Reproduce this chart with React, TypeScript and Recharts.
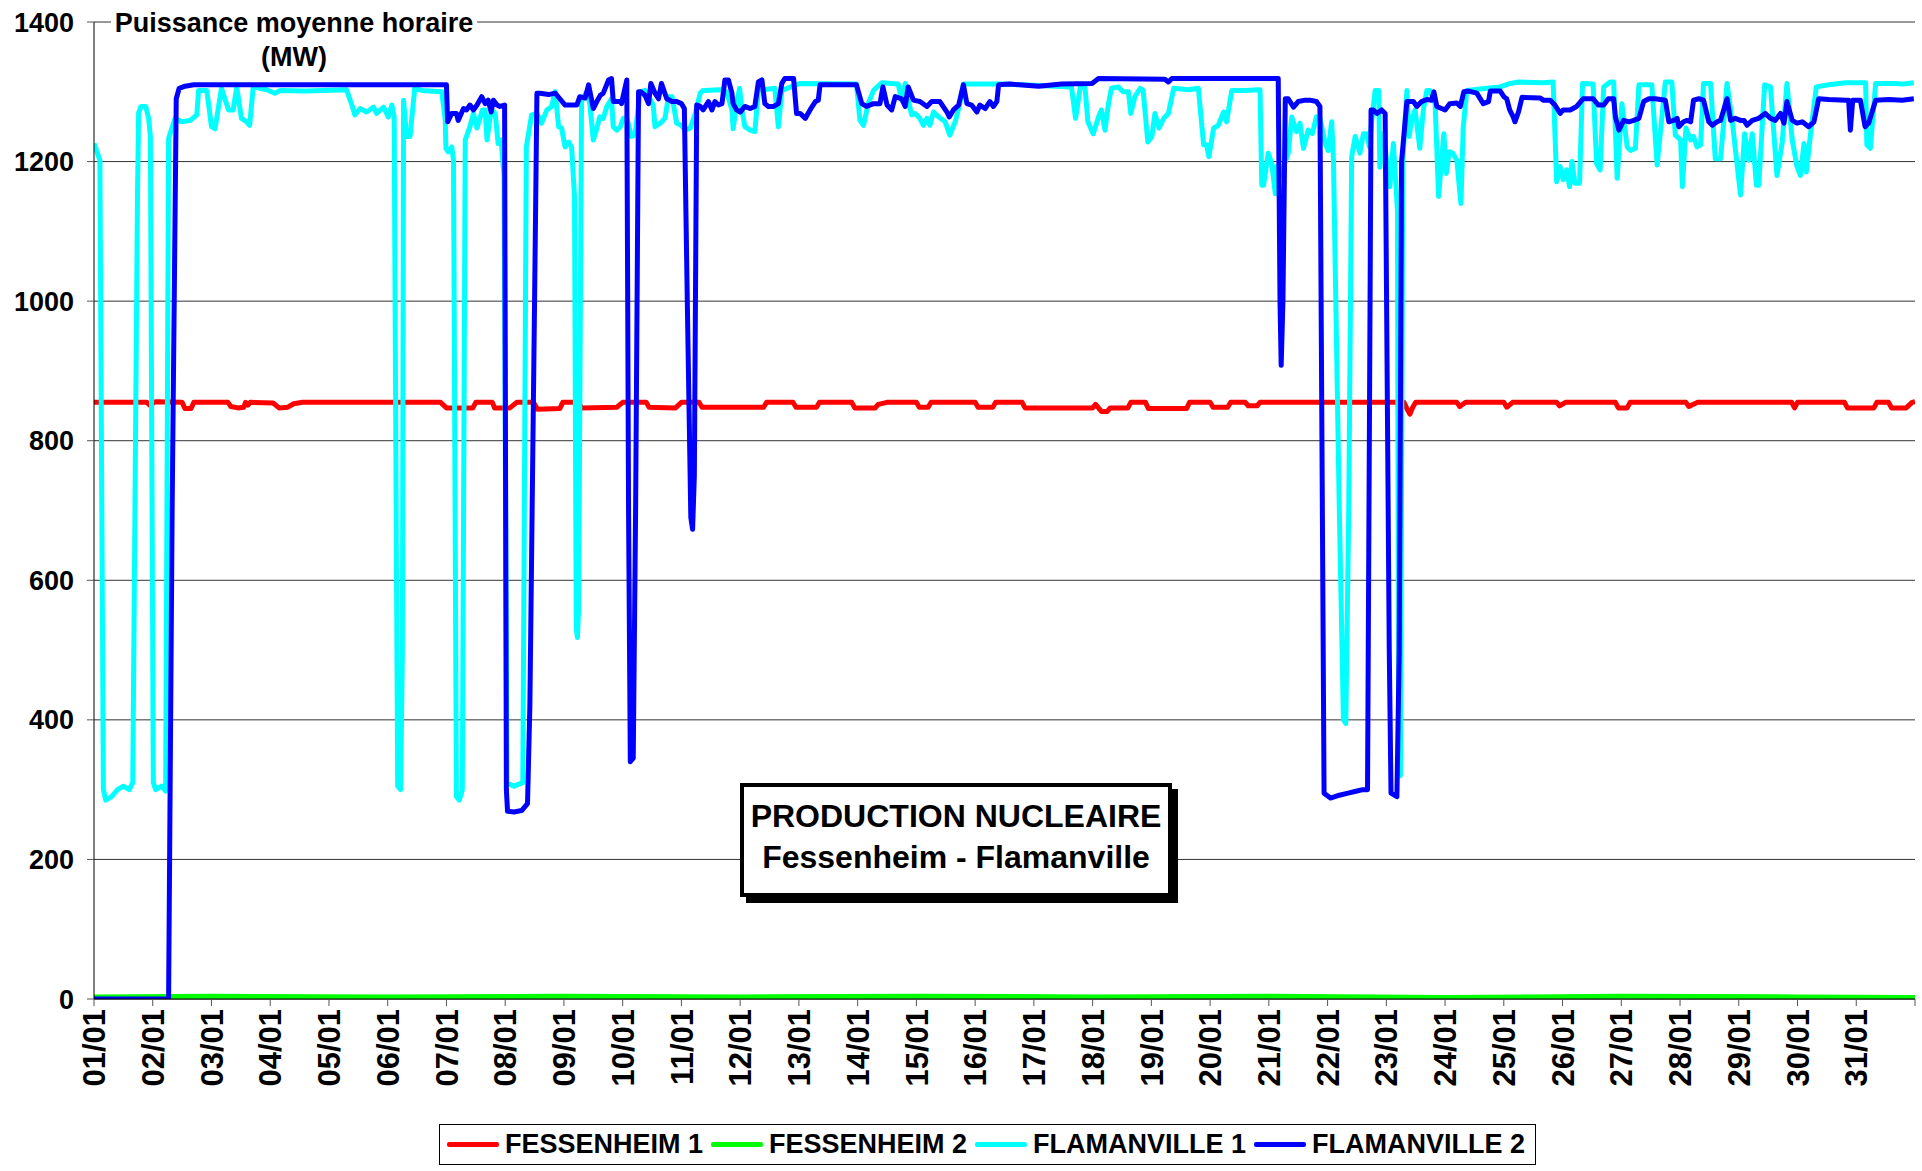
import { LineChart, Line, XAxis, YAxis, CartesianGrid, Legend } from 'recharts';

const FONT = '"Liberation Sans", Arial, Helvetica, sans-serif';

const DAY_LABELS = [
  '01/01', '02/01', '03/01', '04/01', '05/01', '06/01', '07/01', '08/01', '09/01', '10/01',
  '11/01', '12/01', '13/01', '14/01', '15/01', '16/01', '17/01', '18/01', '19/01', '20/01',
  '21/01', '22/01', '23/01', '24/01', '25/01', '26/01', '27/01', '28/01', '29/01', '30/01', '31/01',
];
const DAY_TICKS = DAY_LABELS.map((_, i) => i).concat([31]);
const MW_TICKS = [0, 200, 400, 600, 800, 1000, 1200, 1400];

// [day since 01/01 00h, MW]
const FES1: [number, number][] = [
  [0, 855], [0.9, 855], [0.95, 851], [1.05, 856], [1.5, 855], [1.55, 846], [1.65, 846], [1.7, 855],
  [2.28, 855], [2.33, 849], [2.45, 847], [2.55, 848], [2.58, 855], [2.62, 851], [2.66, 855],
  [3.05, 854], [3.15, 847], [3.3, 848], [3.4, 853], [3.55, 855], [5.9, 855], [6.0, 847], [6.45, 847],
  [6.5, 855], [6.78, 855], [6.82, 847], [7.08, 847], [7.2, 855], [7.48, 855], [7.55, 845], [7.93, 846],
  [7.98, 855], [8.25, 855], [8.3, 847], [8.9, 848], [9.0, 855], [9.4, 855], [9.45, 848], [9.9, 847],
  [10.0, 855], [10.3, 855], [10.35, 848], [10.8, 848], [11.4, 848], [11.45, 855], [11.9, 855],
  [11.95, 848], [12.3, 848], [12.35, 855], [12.9, 855], [12.95, 847], [13.3, 847], [13.35, 852],
  [13.5, 855], [14.0, 855], [14.05, 848], [14.2, 848], [14.25, 855], [15.0, 855], [15.05, 848],
  [15.3, 848], [15.35, 855], [15.8, 855], [15.85, 847], [17.0, 847], [17.05, 852], [17.1, 847],
  [17.15, 842], [17.25, 842], [17.3, 847], [17.6, 847], [17.65, 855], [17.9, 855], [17.95, 846],
  [18.6, 846], [18.65, 855], [19.0, 855], [19.05, 848], [19.3, 848], [19.35, 855], [19.6, 855],
  [19.65, 850], [19.8, 850], [19.85, 855], [22.3, 855], [22.35, 846], [22.4, 838], [22.45, 848],
  [22.5, 855], [23.2, 855], [23.25, 849], [23.35, 855], [24.0, 855], [24.05, 848], [24.15, 855],
  [24.9, 855], [24.95, 850], [25.05, 855], [25.9, 855], [25.95, 847], [26.1, 847], [26.15, 855],
  [27.1, 855], [27.15, 849], [27.3, 855], [28.9, 855], [28.95, 847], [29.0, 855], [29.8, 855],
  [29.85, 847], [30.3, 847], [30.35, 855], [30.55, 855], [30.6, 847], [30.85, 847], [30.95, 855], [31, 856],
];

const FES2: [number, number][] = [
  [0, 3], [2, 4], [5, 3], [8, 4], [11, 3], [14, 4], [17, 3], [20, 4], [23, 2], [26, 4], [29, 3], [31, 2],
];

const FLA1: [number, number][] = [
  [0, 1226], [0.1, 1202], [0.16, 300], [0.2, 285], [0.3, 290], [0.4, 300], [0.5, 305], [0.6, 300],
  [0.66, 310], [0.74, 1150], [0.76, 1270], [0.8, 1279], [0.88, 1279], [0.93, 1262], [0.96, 1236],
  [1.01, 310], [1.05, 300], [1.15, 305], [1.22, 298], [1.27, 1233], [1.38, 1262], [1.49, 1257],
  [1.64, 1259], [1.75, 1267], [1.78, 1302], [1.92, 1302], [2.0, 1250], [2.06, 1247], [2.17, 1305],
  [2.29, 1274], [2.37, 1274], [2.43, 1307], [2.51, 1262], [2.6, 1257], [2.65, 1252], [2.71, 1307],
  [2.94, 1303], [3.08, 1298], [3.17, 1302], [3.6, 1301], [3.9, 1302], [4.3, 1303], [4.39, 1281],
  [4.44, 1267], [4.53, 1276], [4.64, 1271], [4.76, 1278], [4.81, 1269], [4.93, 1278], [5.01, 1264],
  [5.07, 1281], [5.11, 1264], [5.15, 600], [5.17, 305], [5.22, 300], [5.25, 500], [5.27, 1288],
  [5.32, 1236], [5.38, 1236], [5.46, 1305], [5.58, 1302], [5.92, 1300], [5.98, 1259], [5.99, 1219],
  [6.03, 1214], [6.09, 1221], [6.12, 1202], [6.17, 290], [6.22, 285], [6.27, 300], [6.32, 1231],
  [6.4, 1250], [6.46, 1269], [6.52, 1248], [6.57, 1262], [6.61, 1274], [6.66, 1274], [6.69, 1231],
  [6.74, 1262], [6.77, 1274], [6.83, 1269], [6.88, 1226], [6.93, 1231], [6.98, 1180], [7.03, 310],
  [7.15, 305], [7.3, 310], [7.36, 1221], [7.45, 1267], [7.54, 1269], [7.62, 1255], [7.71, 1274],
  [7.79, 1279], [7.85, 1300], [7.91, 1250], [7.96, 1248], [8.02, 1221], [8.08, 1228], [8.13, 1221],
  [8.18, 1150], [8.21, 530], [8.23, 518], [8.25, 560], [8.3, 1288], [8.39, 1300], [8.44, 1283],
  [8.5, 1231], [8.56, 1248], [8.61, 1264], [8.67, 1262], [8.73, 1279], [8.81, 1290], [8.84, 1250],
  [8.9, 1245], [8.96, 1250], [9.01, 1262], [9.07, 1262], [9.15, 1236], [9.21, 1238], [9.3, 1300],
  [9.38, 1302], [9.44, 1293], [9.52, 1281], [9.55, 1250], [9.64, 1255], [9.72, 1262], [9.78, 1293],
  [9.84, 1293], [9.92, 1255], [10.0, 1252], [10.06, 1245], [10.15, 1248], [10.23, 1267], [10.32, 1298],
  [10.37, 1302], [10.66, 1303], [10.77, 1300], [10.86, 1274], [10.88, 1247], [10.94, 1283], [10.99, 1305],
  [11.03, 1274], [11.08, 1250], [11.17, 1245], [11.25, 1243], [11.31, 1302], [11.59, 1305], [11.65, 1250],
  [11.71, 1302], [12.02, 1312], [12.98, 1311], [13.04, 1259], [13.1, 1252], [13.18, 1283], [13.27, 1302],
  [13.41, 1313], [13.69, 1311], [13.75, 1288], [13.81, 1312], [13.86, 1288], [13.92, 1267], [13.98, 1269],
  [14.06, 1262], [14.12, 1252], [14.18, 1262], [14.23, 1252], [14.29, 1271], [14.38, 1264], [14.49, 1257],
  [14.57, 1238], [14.66, 1257], [14.74, 1283], [14.8, 1311], [15.31, 1311], [15.51, 1311], [16.64, 1307],
  [16.71, 1262], [16.79, 1307], [16.87, 1307], [16.92, 1257], [17.01, 1240], [17.1, 1264], [17.15, 1274],
  [17.21, 1245], [17.27, 1283], [17.32, 1305], [17.44, 1307], [17.52, 1300], [17.61, 1300], [17.65, 1269],
  [17.72, 1293], [17.81, 1305], [17.86, 1302], [17.94, 1228], [18.01, 1236], [18.06, 1269], [18.13, 1248],
  [18.21, 1262], [18.29, 1269], [18.38, 1305], [18.63, 1303], [18.8, 1305], [18.89, 1224], [18.94, 1224],
  [18.98, 1207], [19.06, 1248], [19.14, 1252], [19.23, 1271], [19.28, 1257], [19.37, 1302], [19.59, 1302],
  [19.85, 1303], [19.88, 1166], [19.91, 1166], [19.99, 1212], [20.05, 1197], [20.11, 1154], [20.13, 1193],
  [20.2, 1180], [20.33, 1212], [20.39, 1264], [20.47, 1243], [20.53, 1255], [20.59, 1219], [20.67, 1245],
  [20.74, 1240], [20.81, 1264], [20.87, 1262], [20.96, 1226], [21.01, 1216], [21.07, 1257], [21.1, 1202],
  [21.2, 700], [21.27, 400], [21.31, 395], [21.36, 700], [21.41, 1207], [21.47, 1236], [21.55, 1212],
  [21.61, 1240], [21.67, 1240], [21.71, 1221], [21.75, 1257], [21.81, 1302], [21.87, 1302], [21.89, 1192],
  [21.95, 1240], [22.06, 1164], [22.12, 1226], [22.19, 1130], [22.21, 320], [22.24, 320], [22.28, 1200],
  [22.35, 1302], [22.39, 1236], [22.43, 1259], [22.49, 1274], [22.57, 1219], [22.63, 1274], [22.69, 1302],
  [22.74, 1302], [22.83, 1283], [22.89, 1150], [22.94, 1202], [22.98, 1240], [23.02, 1183], [23.07, 1214],
  [23.13, 1212], [23.2, 1202], [23.27, 1140], [23.31, 1250], [23.37, 1302], [23.71, 1305], [23.94, 1307],
  [24.11, 1312], [24.25, 1314], [24.67, 1313], [24.84, 1314], [24.9, 1171], [24.96, 1193], [25.01, 1174],
  [25.07, 1188], [25.12, 1164], [25.16, 1200], [25.21, 1169], [25.29, 1169], [25.34, 1312], [25.52, 1311],
  [25.58, 1197], [25.64, 1188], [25.7, 1307], [25.81, 1314], [25.87, 1314], [25.93, 1176], [26.01, 1283],
  [26.1, 1221], [26.16, 1216], [26.24, 1219], [26.3, 1310], [26.52, 1310], [26.61, 1195], [26.75, 1314],
  [26.86, 1314], [26.92, 1238], [27.01, 1231], [27.04, 1164], [27.1, 1248], [27.18, 1231], [27.23, 1236],
  [27.29, 1221], [27.35, 1224], [27.4, 1312], [27.52, 1312], [27.6, 1204], [27.69, 1204], [27.8, 1312],
  [27.89, 1257], [28.03, 1152], [28.1, 1240], [28.17, 1202], [28.23, 1240], [28.3, 1166], [28.34, 1166],
  [28.44, 1310], [28.54, 1307], [28.65, 1180], [28.74, 1228], [28.82, 1312], [28.91, 1231], [28.99, 1193],
  [29.05, 1180], [29.11, 1226], [29.15, 1185], [29.22, 1238], [29.32, 1307], [29.53, 1310], [29.82, 1313],
  [30.16, 1313], [30.18, 1224], [30.24, 1219], [30.33, 1312], [30.67, 1312], [30.78, 1311], [30.98, 1313],
];

const FLA2: [number, number][] = [
  [0, 0], [1.27, 0], [1.33, 700], [1.4, 1290], [1.45, 1305], [1.55, 1308], [1.7, 1310], [6.0, 1310],
  [6.02, 1257], [6.09, 1269], [6.17, 1269], [6.2, 1259], [6.29, 1276], [6.34, 1274], [6.4, 1281],
  [6.46, 1274], [6.52, 1281], [6.6, 1293], [6.66, 1283], [6.71, 1288], [6.76, 1271], [6.8, 1288],
  [6.86, 1281], [6.91, 1279], [6.99, 1281], [7.02, 300], [7.04, 269], [7.15, 268], [7.28, 270],
  [7.38, 280], [7.42, 420], [7.5, 1000], [7.54, 1298], [7.59, 1298], [7.74, 1296], [7.85, 1298],
  [7.93, 1290], [8.02, 1281], [8.13, 1281], [8.22, 1281], [8.27, 1293], [8.36, 1291], [8.42, 1310],
  [8.5, 1276], [8.56, 1286], [8.62, 1295], [8.67, 1298], [8.76, 1317], [8.81, 1319], [8.84, 1286],
  [8.96, 1286], [8.98, 1283], [9.07, 1317], [9.1, 700], [9.13, 340], [9.18, 345], [9.22, 700],
  [9.27, 1300], [9.31, 1300], [9.38, 1295], [9.44, 1283], [9.48, 1312], [9.55, 1298], [9.61, 1290],
  [9.66, 1312], [9.75, 1290], [9.84, 1286], [9.92, 1286], [10.0, 1283], [10.05, 1276], [10.1, 1000],
  [10.16, 690], [10.19, 673], [10.22, 750], [10.26, 1281], [10.32, 1279], [10.37, 1274], [10.46, 1286],
  [10.52, 1274], [10.57, 1286], [10.63, 1281], [10.69, 1283], [10.74, 1317], [10.8, 1317], [10.86, 1298],
  [10.88, 1283], [10.94, 1274], [11.0, 1271], [11.08, 1279], [11.17, 1276], [11.25, 1279], [11.31, 1314],
  [11.37, 1317], [11.42, 1283], [11.48, 1279], [11.57, 1279], [11.65, 1283], [11.71, 1312], [11.76, 1319],
  [11.91, 1319], [11.96, 1269], [12.02, 1269], [12.11, 1262], [12.19, 1274], [12.28, 1286], [12.33, 1288],
  [12.36, 1310], [12.98, 1310], [13.07, 1283], [13.15, 1279], [13.27, 1283], [13.38, 1283], [13.43, 1307],
  [13.5, 1281], [13.58, 1274], [13.64, 1293], [13.75, 1290], [13.81, 1279], [13.86, 1307], [13.95, 1288],
  [14.06, 1286], [14.18, 1279], [14.26, 1286], [14.4, 1286], [14.52, 1271], [14.56, 1264], [14.63, 1274],
  [14.72, 1281], [14.8, 1310], [14.86, 1283], [14.94, 1281], [15.03, 1271], [15.08, 1281], [15.17, 1276],
  [15.25, 1286], [15.31, 1279], [15.37, 1286], [15.4, 1310], [15.59, 1311], [16.08, 1308], [16.47, 1311],
  [16.99, 1312], [17.1, 1319], [18.23, 1318], [18.29, 1314], [18.35, 1319], [20.16, 1319], [20.19, 1000],
  [20.21, 908], [20.24, 1000], [20.28, 1290], [20.33, 1290], [20.42, 1278], [20.5, 1286], [20.62, 1288],
  [20.7, 1288], [20.81, 1286], [20.87, 1279], [20.94, 295], [21.05, 288], [21.2, 292], [21.35, 295],
  [21.5, 298], [21.6, 300], [21.68, 300], [21.74, 1274], [21.78, 1274], [21.84, 1269], [21.92, 1274],
  [21.98, 1269], [22.05, 500], [22.08, 295], [22.18, 290], [22.22, 500], [22.26, 1200], [22.35, 1286],
  [22.46, 1286], [22.52, 1279], [22.6, 1286], [22.69, 1289], [22.77, 1288], [22.81, 1300], [22.86, 1279],
  [22.94, 1276], [23.0, 1274], [23.08, 1283], [23.2, 1284], [23.26, 1279], [23.32, 1300], [23.4, 1301],
  [23.54, 1298], [23.65, 1283], [23.74, 1286], [23.77, 1301], [23.94, 1301], [24.0, 1293], [24.05, 1290],
  [24.1, 1274], [24.16, 1264], [24.19, 1257], [24.25, 1271], [24.31, 1292], [24.62, 1291], [24.67, 1288],
  [24.79, 1288], [24.87, 1281], [24.96, 1269], [25.01, 1274], [25.13, 1274], [25.24, 1279], [25.35, 1290],
  [25.52, 1290], [25.61, 1281], [25.7, 1281], [25.78, 1290], [25.87, 1290], [25.9, 1264], [25.96, 1245],
  [26.04, 1259], [26.13, 1257], [26.21, 1259], [26.3, 1262], [26.38, 1286], [26.47, 1290], [26.58, 1290],
  [26.75, 1288], [26.81, 1257], [26.89, 1259], [26.95, 1262], [26.98, 1250], [27.06, 1257], [27.12, 1259],
  [27.18, 1257], [27.23, 1288], [27.32, 1290], [27.4, 1288], [27.49, 1257], [27.55, 1252], [27.63, 1257],
  [27.69, 1259], [27.8, 1290], [27.86, 1259], [27.94, 1262], [28.03, 1259], [28.09, 1259], [28.14, 1252],
  [28.23, 1259], [28.34, 1262], [28.45, 1269], [28.54, 1262], [28.62, 1259], [28.71, 1269], [28.77, 1255],
  [28.82, 1286], [28.91, 1259], [28.99, 1255], [29.08, 1257], [29.19, 1250], [29.28, 1257], [29.36, 1290],
  [29.53, 1289], [29.82, 1288], [29.87, 1288], [29.9, 1245], [29.94, 1288], [30.07, 1288], [30.15, 1250],
  [30.21, 1255], [30.33, 1288], [30.55, 1289], [30.78, 1288], [30.98, 1290],
];

const SERIES = [
  { name: 'FESSENHEIM 1', color: '#FF0000', values: FES1 },
  { name: 'FESSENHEIM 2', color: '#00FF00', values: FES2 },
  { name: 'FLAMANVILLE 1', color: '#00FFFF', values: FLA1 },
  { name: 'FLAMANVILLE 2', color: '#0000FF', values: FLA2 },
];

const toPoints = (arr: [number, number][]) => arr.map(([t, v]) => ({ t, v }));

function DayTick(props: any) {
  const { x, y, payload } = props;
  const label = DAY_LABELS[payload.value] ?? '';
  return (
    <g transform={`translate(${x},${y}) rotate(-90)`}>
      <text x={0} y={0} dy="0.36em" textAnchor="end" fontFamily={FONT} fontSize={31} fontWeight="bold" fill="#000">
        {label}
      </text>
    </g>
  );
}

function LegendBox() {
  return (
    <div
      style={{
        boxSizing: 'border-box', width: 1097, height: 41, border: '1px solid #000', background: '#fff',
        display: 'flex', alignItems: 'center', paddingLeft: 7, fontFamily: FONT, fontSize: 27, fontWeight: 'bold',
      }}
    >
      {SERIES.map((s) => (
        <div key={s.name} style={{ display: 'flex', alignItems: 'center', marginRight: 8 }}>
          <span style={{ display: 'inline-block', width: 52, height: 5, background: s.color, borderRadius: 2, marginRight: 6 }} />
          <span style={{ color: '#000', whiteSpace: 'nowrap' }}>{s.name}</span>
        </div>
      ))}
    </div>
  );
}

export default function App() {
  return (
    <div style={{ position: 'absolute', left: 0, top: 0, width: 1922, height: 1171, background: '#fff', fontFamily: FONT }}>
      <LineChart width={1922} height={1171} margin={{ top: 22, right: 7, bottom: 62, left: 0 }}>
        <CartesianGrid vertical={false} stroke="#333" strokeWidth={1} />
        <XAxis
          dataKey="t"
          type="number"
          domain={[0, 31]}
          ticks={DAY_TICKS}
          interval={0}
          height={110}
          tickSize={7}
          tickMargin={3}
          tick={<DayTick />}
          axisLine={{ stroke: '#000', strokeWidth: 1 }}
          tickLine={{ stroke: '#555' }}
          allowDataOverflow
        />
        <YAxis
          type="number"
          domain={[0, 1400]}
          ticks={MW_TICKS}
          interval={0}
          width={94}
          tickSize={7}
          tickMargin={13}
          tick={{ fontFamily: FONT, fontSize: 27, fontWeight: 'bold', fill: '#000' }}
          axisLine={{ stroke: '#000', strokeWidth: 1 }}
          tickLine={{ stroke: '#555' }}
          allowDataOverflow
        />
        <Legend
          layout="horizontal"
          verticalAlign="middle"
          align="center"
          content={() => <LegendBox />}
          wrapperStyle={{ left: 439, top: 1124, width: 1097, height: 41 }}
        />
        {SERIES.map((s) => (
          <Line
            key={s.name}
            name={s.name}
            data={toPoints(s.values)}
            dataKey="v"
            type="linear"
            stroke={s.color}
            strokeWidth={5}
            strokeLinejoin="round"
            dot={false}
            activeDot={false}
            isAnimationActive={false}
          />
        ))}
      </LineChart>

      <div style={{ position: 'absolute', left: 94, top: 6, width: 400, textAlign: 'center', fontSize: 27, fontWeight: 'bold', lineHeight: '34px', color: '#000' }}>
        <span style={{ background: '#fff', padding: '0 4px' }}>Puissance moyenne horaire</span>
        <br />
        <span>(MW)</span>
      </div>

      <div
        style={{
          position: 'absolute', left: 740, top: 783, width: 432, height: 114, boxSizing: 'border-box',
          border: '4px solid #000', background: '#fff', boxShadow: '6px 6px 0 #000', textAlign: 'center',
          fontSize: 32, fontWeight: 'bold', lineHeight: '41px', paddingTop: 9, color: '#000', whiteSpace: 'nowrap',
        }}
      >
        <div>PRODUCTION NUCLEAIRE</div>
        <div>Fessenheim - Flamanville</div>
      </div>
    </div>
  );
}
